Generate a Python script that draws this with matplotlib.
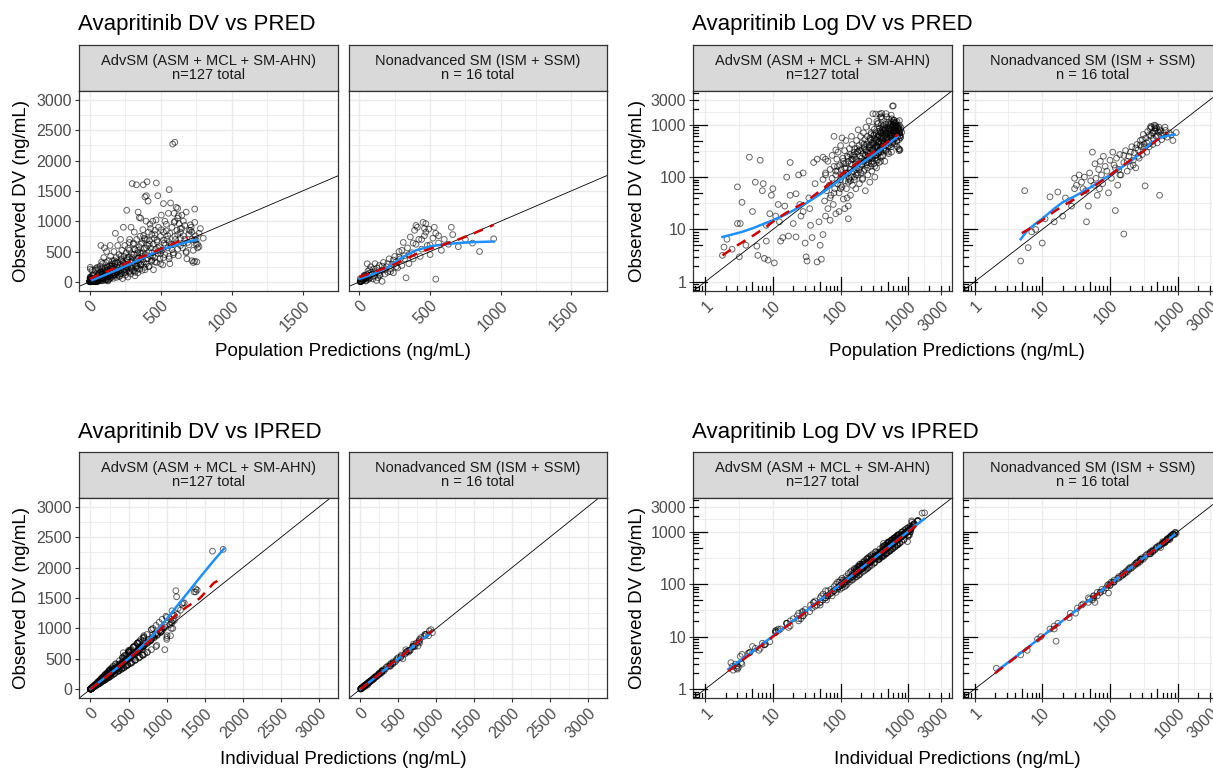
import matplotlib
matplotlib.use("Agg")
import matplotlib.pyplot as plt
import matplotlib.transforms as mtransforms
from matplotlib.ticker import NullFormatter

plt.rcParams['font.family'] = ['Liberation Sans', 'DejaVu Sans']

# ---- labels ----
titles = ["Avapritinib DV vs PRED", "Avapritinib Log DV vs PRED",
          "Avapritinib DV vs IPRED", "Avapritinib Log DV vs IPRED"]
strip_labels = ["AdvSM (ASM + MCL + SM-AHN)\nn=127 total",
                "Nonadvanced SM (ISM + SSM)\nn = 16 total"]
ylab = "Observed DV (ng/mL)"
xlab_pred = "Population Predictions (ng/mL)"
xlab_ipred = "Individual Predictions (ng/mL)"

adv_pred = [
    1.8, 1.9, 2.1, 2.5, 3.0, 3.2, 3.3, 3.5, 3.0, 4.5,
    5.0, 5.5, 5.8, 6.0, 6.5, 7.0, 7.2, 7.5, 8.0, 8.5,
    9.0, 9.5, 10, 10.5, 11, 12, 12.5, 13, 14, 15,
    16, 17, 18, 20, 22, 24, 26, 28, 30, 31,
    32, 34, 35, 36, 38, 40, 42, 45, 45, 48,
    50, 52, 55, 60, 22, 25, 28, 18, 8, 4,
    55, 58, 60, 62, 65, 65, 68, 70, 72, 75,
    75, 78, 80, 80, 82, 85, 85, 88, 90, 90,
    92, 95, 98, 100, 100, 102, 105, 108, 110, 110,
    112, 115, 118, 120, 120, 122, 125, 128, 130, 130,
    132, 135, 138, 140, 140, 142, 145, 148, 150, 150,
    115, 95, 70, 130, 60, 85, 105, 145, 125, 55,
    155, 158, 160, 162, 165, 168, 170, 172, 175, 178,
    180, 182, 185, 188, 190, 192, 195, 198, 200, 200,
    205, 208, 210, 212, 215, 218, 220, 222, 225, 228,
    230, 232, 235, 238, 240, 242, 245, 248, 250, 252,
    255, 258, 260, 262, 265, 268, 270, 272, 275, 278,
    280, 282, 285, 288, 290, 292, 295, 298, 300, 300,
    305, 308, 310, 312, 315, 318, 320, 322, 325, 328,
    330, 332, 335, 338, 340, 342, 345, 348, 350, 352,
    355, 358, 360, 362, 365, 368, 370, 372, 375, 378,
    380, 385, 388, 390, 392, 395, 398, 400, 400, 405,
    408, 410, 412, 415, 418, 420, 422, 425, 428, 430,
    435, 438, 440, 445, 448, 450, 455, 458, 460, 465,
    468, 470, 472, 475, 480, 485, 490, 495, 500, 505,
    510, 515, 520, 525, 530, 540, 545, 550, 555, 560,
    565, 570, 575, 580, 585, 590, 595, 600, 605, 610,
    615, 620, 625, 630, 640, 650, 660, 670, 680, 700,
    710, 720, 730, 740, 745, 750, 755, 740, 760, 770,
    690, 720, 640, 660, 600, 560, 520, 480, 620, 350,
    160, 175, 190, 205, 220, 235, 250, 265, 280, 295,
    310, 325, 340, 355, 370, 385, 400, 415, 430, 445,
    460, 475, 490, 505, 520, 535, 550, 565, 580, 595,
    610, 625, 640, 655, 670, 685, 700, 715, 730, 750,
    120, 135, 150, 165, 180, 195, 210, 225, 240, 255,
    270, 285, 300, 315, 330, 345, 360, 375, 390, 405,
    80, 90, 100, 110, 120, 130, 140, 150, 160, 170,
    420, 440, 460, 480, 500, 520, 540, 560, 580, 600,
    220, 240, 260, 280, 300, 320, 340, 360, 380, 400,
    620, 640, 660, 680, 700, 720, 740, 760, 780, 800,
    60, 70, 85, 100, 115, 130, 145, 160, 175, 190,
    500, 530, 560, 590, 620, 650, 680, 710, 740, 770,
]
adv_dv = [
    3.2, 4.6, 6.5, 4.2, 13, 3.0, 13, 33, 65, 240,
    22, 80, 4.8, 3.2, 210, 55, 75, 2.8, 6.0, 2.6,
    20, 45, 60, 2.3, 18, 30, 14, 6, 7, 28,
    100, 7.5, 190, 13, 7.2, 110, 18, 120, 5.5, 3.0,
    2.5, 40, 25, 12, 7, 190, 75, 220, 2.4, 14,
    5, 2.7, 240, 18, 48, 30, 22, 45, 12, 5,
    90, 35, 120, 55, 200, 25, 70, 140, 45, 95,
    260, 30, 600, 160, 60, 110, 20, 220, 75, 130,
    300, 50, 170, 90, 400, 140, 65, 230, 110, 38,
    180, 320, 85, 150, 500, 60, 250, 120, 200, 16,
    90, 350, 140, 45, 270, 180, 100, 420, 220, 70,
    25, 22, 15, 28, 220, 330, 560, 600, 40, 8,
    130, 260, 90, 350, 180, 60, 220, 500, 150, 300,
    110, 800, 200, 400, 75, 250, 160, 600, 320, 120,
    230, 450, 180, 95, 280, 700, 200, 380, 140, 520,
    260, 55, 330, 900, 210, 420, 170, 600, 300, 110,
    250, 480, 190, 1180, 360, 230, 80, 550, 290, 160,
    410, 700, 240, 330, 130, 900, 460, 200, 1620, 350,
    270, 620, 180, 450, 820, 300, 100, 530, 230, 380,
    1600, 700, 260, 480, 150, 1150, 400, 320, 580, 210,
    750, 360, 1050, 280, 470, 640, 190, 420, 860, 1600,
    330, 550, 240, 1400, 700, 450, 1000, 1420, 300, 1650,
    600, 380, 1330, 820, 500, 260, 680, 950, 420, 560,
    340, 780, 480, 1000, 620, 200, 720, 400, 850, 540,
    1020, 1630, 320, 660, 470, 900, 580, 380, 750, 1100,
    520, 280, 820, 640, 450, 950, 700, 560, 1130, 380,
    800, 1300, 620, 900, 2270, 480, 1130, 2300, 700, 1230,
    850, 540, 1090, 960, 720, 880, 640, 930, 500, 790,
    940, 350, 320, 340, 760, 690, 330, 690, 620, 800,
    650, 820, 880, 1000, 1000, 1520, 1290, 1420, 1210, 1060,
    240, 120, 330, 170, 420, 260, 150, 380, 520, 230,
    640, 350, 210, 470, 300, 720, 560, 250, 880, 430,
    330, 690, 510, 860, 400, 610, 760, 300, 530, 980,
    640, 430, 820, 560, 700, 380, 610, 900, 520, 620,
    180, 95, 260, 140, 310, 200, 90, 350, 190, 280,
    410, 180, 330, 540, 260, 390, 620, 480, 200, 700,
    50, 160, 70, 200, 120, 240, 85, 170, 300, 110,
    620, 360, 780, 560, 470, 690, 840, 420, 610, 750,
    130, 310, 220, 650, 400, 160, 520, 290, 760, 380,
    1050, 600, 760, 1150, 850, 700, 980, 560, 880, 720,
    110, 40, 130, 60, 150, 80, 220, 100, 350, 140,
    300, 1000, 650, 450, 780, 1100, 480, 850, 1200, 580,
]
adv_ipred = [
    2.4, 3.5, 5.0, 3.3, 11, 2.8, 12, 30, 55, 210,
    20, 72, 4.3, 3.4, 180, 50, 60, 3.0, 5.5, 3.1,
    18, 40, 52, 2.6, 16, 28, 12, 6.5, 7.5, 24,
    85, 7, 160, 11, 7.8, 95, 16, 100, 6.2, 3.5,
    2.9, 36, 23, 11, 7.5, 170, 65, 190, 3.0, 13,
    4.5, 2.5, 210, 16, 42, 27, 24, 40, 11, 4.6,
    80, 38, 110, 60, 170, 28, 75, 120, 50, 100,
    220, 35, 430, 150, 62, 105, 24, 200, 80, 125,
    260, 55, 160, 95, 350, 150, 70, 210, 115, 42,
    170, 300, 90, 150, 430, 65, 230, 125, 190, 18,
    95, 320, 145, 50, 250, 175, 110, 380, 210, 75,
    28, 26, 17, 30, 190, 290, 470, 520, 45, 9,
    135, 250, 95, 330, 185, 65, 215, 460, 160, 290,
    115, 700, 205, 380, 80, 250, 170, 550, 310, 130,
    230, 420, 185, 100, 275, 640, 210, 360, 150, 490,
    260, 60, 320, 820, 220, 400, 180, 560, 300, 120,
    255, 460, 200, 1000, 350, 235, 90, 520, 290, 170,
    400, 660, 250, 330, 140, 850, 450, 210, 1120, 350,
    280, 600, 190, 440, 760, 305, 110, 510, 240, 380,
    1380, 670, 270, 470, 160, 1050, 400, 320, 560, 220,
    720, 360, 980, 290, 460, 620, 200, 420, 820, 1360,
    340, 540, 250, 1200, 680, 450, 940, 1230, 310, 1380,
    590, 380, 1150, 800, 500, 270, 660, 920, 420, 550,
    350, 760, 480, 960, 610, 210, 700, 400, 830, 540,
    980, 1400, 330, 650, 470, 880, 580, 390, 740, 1060,
    520, 290, 800, 630, 450, 930, 690, 560, 1100, 390,
    790, 1180, 610, 880, 1600, 480, 1080, 1740, 690, 1140,
    840, 540, 1070, 940, 710, 870, 640, 920, 500, 780,
    920, 420, 380, 390, 750, 690, 360, 680, 620, 790,
    975, 1000, 1005, 1060, 1080, 1130, 1070, 1210, 1100, 1040,
    190, 150, 260, 210, 330, 320, 190, 300, 420, 290,
    500, 440, 260, 380, 370, 590, 450, 310, 700, 540,
    410, 560, 630, 700, 490, 500, 620, 370, 650, 800,
    520, 530, 660, 690, 570, 470, 750, 740, 640, 510,
    145, 120, 210, 175, 250, 245, 115, 280, 235, 225,
    330, 225, 410, 440, 320, 480, 500, 590, 250, 570,
    62, 130, 86, 160, 145, 195, 105, 140, 240, 135,
    510, 440, 640, 690, 580, 560, 690, 520, 500, 610,
    160, 250, 270, 530, 490, 195, 420, 355, 620, 460,
    860, 740, 620, 940, 1000, 860, 800, 680, 1050, 870,
    90, 50, 105, 75, 185, 98, 180, 125, 280, 170,
    370, 820, 800, 550, 640, 900, 590, 700, 990, 710,
]

# ---- Nonadvanced SM observations ----
non_pred = [
    4.8, 5.5, 6.2, 7, 8, 10, 11, 13, 15, 17,
    20, 22, 25, 27, 30, 30, 32, 35, 38, 40,
    42, 44, 45, 48, 50, 52, 55, 58, 60, 62,
    65, 68, 70, 72, 75, 78, 80, 85, 90, 95,
    100, 105, 110, 115, 120, 125, 130, 135, 140, 145,
    160, 160, 170, 180, 190, 200, 210, 220, 230, 240,
    250, 260, 270, 280, 290, 300, 310, 320, 330, 340,
    350, 360, 370, 380, 390, 400, 420, 430, 440, 450,
    460, 470, 480, 490, 500, 540, 520, 540, 560, 580,
    600, 630, 660, 700, 750, 800, 850, 950, 460, 400,
    300, 320, 350, 380, 410, 440, 470, 500, 530, 560,
    120, 140, 160, 180, 200, 220, 240, 260, 280, 650,
]
non_dv = [
    2.5, 55, 4.5, 9, 10, 5.5, 16, 42, 14, 52,
    18, 40, 35, 28, 60, 95, 70, 110, 80, 60,
    100, 55, 14, 28, 120, 85, 300, 70, 180, 95,
    45, 140, 60, 200, 110, 75, 250, 160, 130, 50,
    210, 95, 300, 170, 23, 230, 70, 140, 270, 110,
    8.2, 190, 320, 130, 250, 160, 380, 210, 290, 150,
    420, 330, 230, 500, 380, 270, 650, 430, 68, 560,
    300, 740, 480, 380, 850, 620, 700, 420, 540, 980,
    760, 960, 600, 870, 450, 45, 720, 800, 640, 520,
    700, 620, 780, 580, 700, 640, 500, 710, 880, 930,
    520, 380, 450, 640, 900, 700, 820, 610, 900, 760,
    150, 110, 260, 200, 300, 170, 360, 250, 410, 900,
]
non_ipred = [
    2.1, 48, 4.8, 8.5, 9.5, 6, 15, 40, 13, 50,
    17, 38, 33, 26, 58, 92, 65, 104, 76, 57,
    96, 58, 15, 31, 115, 88, 280, 72, 175, 100,
    48, 135, 65, 190, 110, 80, 240, 155, 130, 55,
    200, 100, 285, 170, 25, 225, 72, 145, 260, 115,
    16, 190, 300, 135, 245, 165, 360, 215, 285, 155,
    400, 330, 235, 480, 380, 280, 600, 430, 95, 540,
    310, 700, 480, 390, 800, 610, 690, 430, 540, 930,
    740, 910, 600, 840, 460, 60, 710, 780, 640, 530,
    690, 620, 770, 590, 700, 650, 560, 760, 900, 950,
    500, 400, 430, 660, 860, 720, 780, 640, 850, 780,
    155, 115, 250, 205, 290, 180, 340, 260, 400, 870,
]

# ---- smooth curves (blue loess, red dashed) ----
adv_lin_pred_blue_x = [20, 100, 200, 300, 400, 500, 600, 700, 750]
adv_lin_pred_blue_y = [30, 105, 205, 310, 420, 530, 600, 665, 690]
adv_lin_pred_red_x = [0, 100, 200, 300, 400, 500, 600, 690]
adv_lin_pred_red_y = [50, 150, 250, 350, 440, 540, 640, 730]
non_lin_pred_blue_x = [0, 100, 200, 300, 400, 500, 600, 700, 800, 950]
non_lin_pred_blue_y = [50, 130, 240, 400, 520, 585, 620, 640, 655, 665]
non_lin_pred_red_x = [0, 100, 230, 430, 550, 680, 800, 950]
non_lin_pred_red_y = [80, 160, 270, 490, 580, 680, 790, 940]

adv_log_pred_blue_x = [1.8, 2.5, 3.5, 5, 7, 10, 15, 20, 30, 50, 100, 200, 400, 700]
adv_log_pred_blue_y = [7.2, 8, 9, 10.5, 12.5, 15, 19, 23, 31, 47, 90, 180, 340, 600]
adv_log_pred_red_x = [1.8, 3, 5, 7, 10, 15, 20, 30, 50, 100, 200, 400, 700]
adv_log_pred_red_y = [3.2, 5, 7.5, 10, 14, 20, 25, 33, 55, 110, 210, 380, 650]
non_log_pred_blue_x = [4.8, 6, 8, 10, 15, 20, 30, 50, 100, 200, 300, 400, 600, 900]
non_log_pred_blue_y = [6.5, 9.5, 13, 16, 25, 33, 43, 62, 110, 200, 300, 450, 590, 650]
non_log_pred_red_x = [5, 7, 10, 15, 20, 30, 50, 100, 200, 300, 500, 700]
non_log_pred_red_y = [8.5, 11, 15, 22, 28, 38, 58, 110, 210, 300, 520, 710]

adv_lin_ipred_blue_x = [0, 200, 400, 600, 800, 900, 1050, 1220, 1450, 1600, 1750]
adv_lin_ipred_blue_y = [5, 200, 400, 610, 860, 1000, 1234, 1500, 1860, 2090, 2310]
adv_lin_ipred_red_x = [0, 200, 400, 600, 800, 1000, 1260, 1430, 1620, 1680]
adv_lin_ipred_red_y = [0, 195, 400, 600, 820, 1100, 1350, 1490, 1750, 1790]
non_lin_ipred_blue_x = [0, 200, 400, 600, 800, 900]
non_lin_ipred_blue_y = [0, 195, 400, 600, 810, 900]
non_lin_ipred_red_x = [0, 200, 400, 600, 800, 950]
non_lin_ipred_red_y = [0, 200, 410, 600, 820, 960]

adv_log_ipred_blue_x = [2.2, 5, 10, 30, 100, 300, 1000, 1700]
adv_log_ipred_blue_y = [2.4, 5.2, 10.3, 30, 100, 300, 1020, 1750]
adv_log_ipred_red_x = [2.2, 5, 10, 30, 100, 300, 1000, 1500]
adv_log_ipred_red_y = [2.2, 5, 10, 29, 98, 300, 1000, 1500]
non_log_ipred_blue_x = [2.2, 5, 10, 30, 100, 300, 900]
non_log_ipred_blue_y = [2.3, 5.1, 10.2, 30, 101, 305, 880]
non_log_ipred_red_x = [2, 5, 10, 30, 100, 300, 900]
non_log_ipred_red_y = [2, 5, 10, 30, 100, 300, 900]

lin_ticks = [0, 500, 1000, 1500, 2000, 2500, 3000]
log_ticks = [1, 10, 100, 1000, 3000]
log_labels = ["1", "10", "100", "1000", "3000"]

W, H = 1213, 770
fig = plt.figure(figsize=(W / 100, H / 100), dpi=100)

GRID = '#EBEBEB'
DARK = '#333333'
TICKTXT = '#4D4D4D'
BLUE = '#1E90FF'
RED = '#CD0000'


def box(x0, y0, x1, y1):
    return [x0 / W, 1 - y1 / H, (x1 - x0) / W, (y1 - y0) / H]


def logticks(ax, w_px, h_px):
    tx = mtransforms.blended_transform_factory(ax.transData, ax.transAxes)
    ty = mtransforms.blended_transform_factory(ax.transAxes, ax.transData)
    for dec in [0.1, 1, 10, 100, 1000]:
        for k in range(1, 10):
            v = dec * k
            n = 14 if k == 1 else (9 if k == 5 else 5)
            ax.plot([v, v], [0, n / h_px], transform=tx, color='black', lw=0.9, zorder=5)
            ax.plot([0, n / w_px], [v, v], transform=ty, color='black', lw=0.9, zorder=5)


def facet(x0, x1, top, bottom, label, xs, ys, bx, by, rx, ry,
          log, xlim, ylim, xticks, yticks, first):
    sax = fig.add_axes(box(x0, top - 46, x1, top))
    sax.set_facecolor('#D9D9D9')
    sax.set_xticks([])
    sax.set_yticks([])
    for s in sax.spines.values():
        s.set_color(DARK)
        s.set_linewidth(0.9)
    sax.text(0.5, 0.5, label, ha='center', va='center', fontsize=10.5,
             color='#1A1A1A', linespacing=1.0, transform=sax.transAxes)

    ax = fig.add_axes(box(x0, top, x1, bottom))
    if log:
        ax.set_xscale('log')
        ax.set_yscale('log')
    ax.set_xlim(xlim)
    ax.set_ylim(ylim)
    ax.set_autoscale_on(False)
    ax.set_axisbelow(True)

    if log:
        ax.set_xticks(log_ticks)
        ax.set_xticklabels(log_labels)
        ax.set_yticks(log_ticks)
        ax.set_yticklabels(log_labels)
        minor = [10 ** 0.5, 10 ** 1.5, 10 ** 2.5, 10 ** 3.2386]
        ax.set_xticks(minor, minor=True)
        ax.set_yticks(minor, minor=True)
        ax.xaxis.set_minor_formatter(NullFormatter())
        ax.yaxis.set_minor_formatter(NullFormatter())
    else:
        ax.set_xticks(xticks)
        ax.set_yticks(yticks)
        ax.set_xticks([t + 250 for t in xticks], minor=True)
        ax.set_yticks([t + 250 for t in yticks][:-1], minor=True)

    ax.grid(which='major', color=GRID, lw=1.0)
    ax.grid(which='minor', color=GRID, lw=0.6)
    ax.tick_params(which='major', length=3, width=0.8, color=DARK,
                   labelcolor=TICKTXT, labelsize=11.5, pad=2)
    ax.tick_params(which='minor', length=0)
    if not first:
        ax.tick_params(axis='y', left=False, labelleft=False)
    for t in ax.get_xticklabels():
        t.set_rotation(45)
        t.set_ha('right')
        t.set_va('top')
        t.set_rotation_mode('anchor')
    for s in ax.spines.values():
        s.set_color(DARK)
        s.set_linewidth(0.9)

    ax.axline((1, 1), (2, 2), color='black', lw=0.6, zorder=1.5)
    ax.scatter(xs, ys, s=17, facecolors='none', edgecolors='black',
               linewidths=0.7, alpha=0.6, zorder=2)
    ax.plot(bx, by, color=BLUE, lw=1.8, zorder=3)
    ax.plot(rx, ry, color=RED, lw=1.8, ls=(0, (4, 3)), zorder=4)
    if log:
        logticks(ax, x1 - x0, bottom - top)
    return ax


lin_lim = (-150, 3150)
pred_xlim = (-74, 1555)
log_lim = (10 ** -0.175, 10 ** 3.65)

left_cols = [(79, 338.3), (349, 606.7)]
right_cols = [(693.3, 952.3), (962.7, 1221.7)]
rows = [(90.7, 291), (497.7, 698.3)]

# Top-left: DV vs PRED (linear)
facet(*left_cols[0], *rows[0], strip_labels[0], adv_pred, adv_dv,
      adv_lin_pred_blue_x, adv_lin_pred_blue_y, adv_lin_pred_red_x, adv_lin_pred_red_y,
      False, pred_xlim, lin_lim, [0, 500, 1000, 1500], lin_ticks, True)
facet(*left_cols[1], *rows[0], strip_labels[1], non_pred, non_dv,
      non_lin_pred_blue_x, non_lin_pred_blue_y, non_lin_pred_red_x, non_lin_pred_red_y,
      False, pred_xlim, lin_lim, [0, 500, 1000, 1500], lin_ticks, False)

# Top-right: log DV vs PRED
facet(*right_cols[0], *rows[0], strip_labels[0], adv_pred, adv_dv,
      adv_log_pred_blue_x, adv_log_pred_blue_y, adv_log_pred_red_x, adv_log_pred_red_y,
      True, log_lim, log_lim, None, None, True)
facet(*right_cols[1], *rows[0], strip_labels[1], non_pred, non_dv,
      non_log_pred_blue_x, non_log_pred_blue_y, non_log_pred_red_x, non_log_pred_red_y,
      True, log_lim, log_lim, None, None, False)

# Bottom-left: DV vs IPRED (linear)
facet(*left_cols[0], *rows[1], strip_labels[0], adv_ipred, adv_dv,
      adv_lin_ipred_blue_x, adv_lin_ipred_blue_y, adv_lin_ipred_red_x, adv_lin_ipred_red_y,
      False, lin_lim, lin_lim, lin_ticks, lin_ticks, True)
facet(*left_cols[1], *rows[1], strip_labels[1], non_ipred, non_dv,
      non_lin_ipred_blue_x, non_lin_ipred_blue_y, non_lin_ipred_red_x, non_lin_ipred_red_y,
      False, lin_lim, lin_lim, lin_ticks, lin_ticks, False)

# Bottom-right: log DV vs IPRED
facet(*right_cols[0], *rows[1], strip_labels[0], adv_ipred, adv_dv,
      adv_log_ipred_blue_x, adv_log_ipred_blue_y, adv_log_ipred_red_x, adv_log_ipred_red_y,
      True, log_lim, log_lim, None, None, True)
facet(*right_cols[1], *rows[1], strip_labels[1], non_ipred, non_dv,
      non_log_ipred_blue_x, non_log_ipred_blue_y, non_log_ipred_red_x, non_log_ipred_red_y,
      True, log_lim, log_lim, None, None, False)

# titles and axis labels
for (tx, ty), title in zip([(78, 30), (692, 30), (78, 438), (692, 438)], titles):
    fig.text(tx / W, 1 - ty / H, title, fontsize=16, ha='left', va='baseline', color='black')

for cx, cy in [(22, 191), (637, 191), (22, 598), (637, 598)]:
    fig.text(cx / W, 1 - cy / H, ylab, rotation=90, fontsize=13.5,
             ha='center', va='center', color='black')

for cx, cy, lab in [(343, 352, xlab_pred), (957, 352, xlab_pred),
                    (343, 760, xlab_ipred), (957, 760, xlab_ipred)]:
    fig.text(cx / W, 1 - cy / H, lab, fontsize=13.5, ha='center', va='center', color='black')

fig.savefig("out.png", dpi=100)
